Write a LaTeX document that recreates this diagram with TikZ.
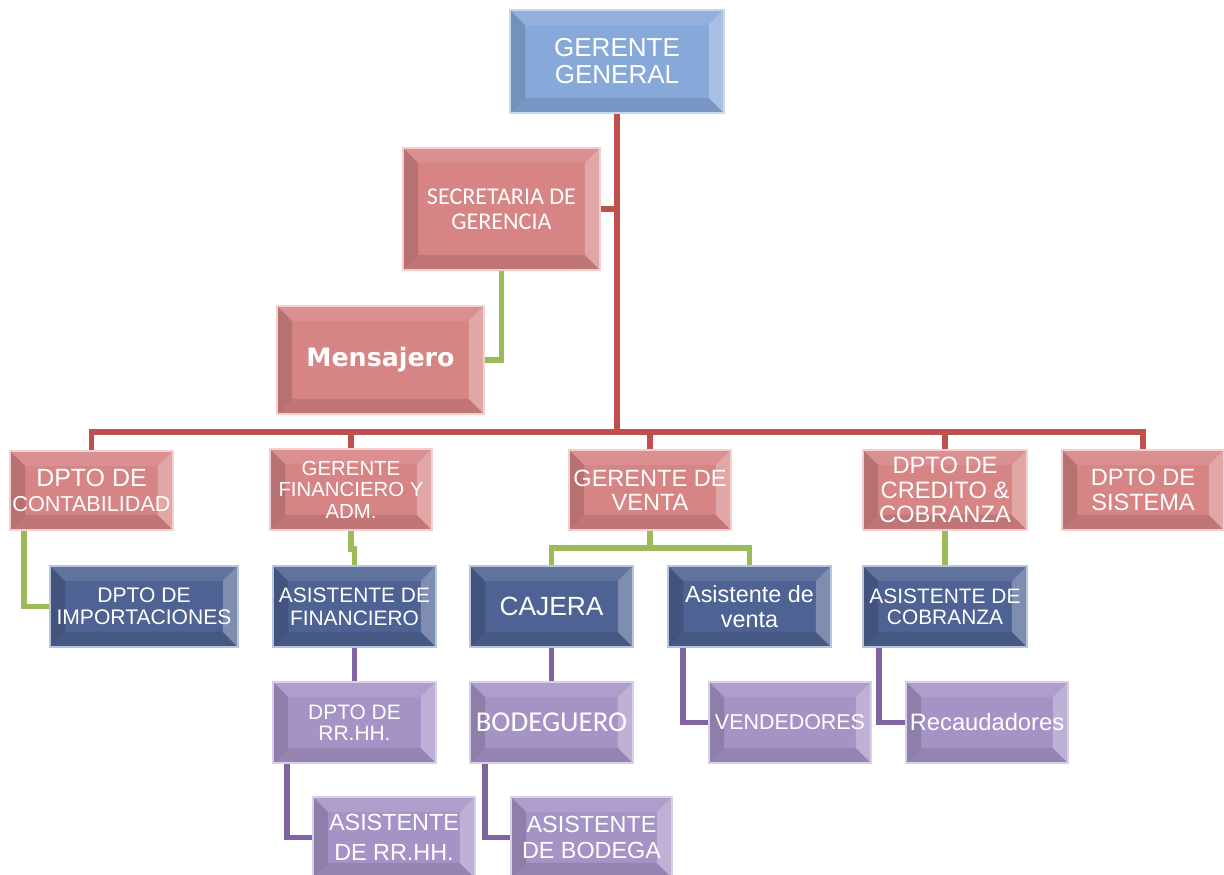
\documentclass[tikz,border=0pt]{standalone}
\usepackage{fontspec}
\setmainfont{Liberation Sans}
\newfontfamily\calib{Carlito}
\newfontfamily\heavy{DejaVu Sans}
\pgfdeclarelayer{bg}
\pgfsetlayers{bg,main}

\definecolor{cBlue}{HTML}{87A9D9}
\definecolor{cBlueEdge}{HTML}{C5D8F0}
\definecolor{cRed}{HTML}{D68484}
\definecolor{cRedEdge}{HTML}{F3CFCF}
\definecolor{cNavy}{HTML}{4E6293}
\definecolor{cNavyEdge}{HTML}{B7C5DE}
\definecolor{cLilac}{HTML}{A693C6}
\definecolor{cLilacEdge}{HTML}{D9CFEA}
\definecolor{lnRed}{HTML}{C0504D}
\definecolor{lnGreen}{HTML}{9BBB59}
\definecolor{lnPurple}{HTML}{8064A2}

\newcommand\bevw{0.3cm}

\tikzset{
  bevel/.style={path picture={
    \fill[white,opacity=.10] (path picture bounding box.north west) -- (path picture bounding box.north east)
      -- ([shift={(-\bevw,-\bevw)}]path picture bounding box.north east) -- ([shift={(\bevw,-\bevw)}]path picture bounding box.north west) -- cycle;
    \fill[white,opacity=.28] (path picture bounding box.north east) -- (path picture bounding box.south east)
      -- ([shift={(-\bevw,\bevw)}]path picture bounding box.south east) -- ([shift={(-\bevw,-\bevw)}]path picture bounding box.north east) -- cycle;
    \fill[black,opacity=.10] (path picture bounding box.south east) -- (path picture bounding box.south west)
      -- ([shift={(\bevw,\bevw)}]path picture bounding box.south west) -- ([shift={(-\bevw,\bevw)}]path picture bounding box.south east) -- cycle;
    \fill[black,opacity=.14] (path picture bounding box.south west) -- (path picture bounding box.north west)
      -- ([shift={(\bevw,-\bevw)}]path picture bounding box.north west) -- ([shift={(\bevw,\bevw)}]path picture bounding box.south west) -- cycle;
  }},
  orgnode/.style={rectangle, inner sep=0pt, align=center, text=white, line width=1.1pt, bevel},
  bluebox/.style={orgnode, fill=cBlue, draw=cBlueEdge},
  redbox/.style={orgnode, fill=cRed, draw=cRedEdge},
  navybox/.style={orgnode, fill=cNavy, draw=cNavyEdge},
  lilacbox/.style={orgnode, fill=cLilac, draw=cLilacEdge},
  link/.style={line width=3pt},
  redlink/.style={link, draw=lnRed},
  greenlink/.style={link, draw=lnGreen},
  purplelink/.style={link, draw=lnPurple},
  fsz/.style 2 args={font=\fontsize{#1}{#2}\selectfont},
}

% \orgbox{name}{style}{x1}{y1}{x2}{y2}{text}
\newcommand\orgbox[7]{%
  \node[#2, minimum width={(#5-#3)*0.569pt}, minimum height={(#6-#4)*0.569pt}]
    (#1) at ({(#3+#5)/2},{(#4+#6)/2}) {#7};}

\begin{document}
\begin{tikzpicture}[x=0.02cm, y=-0.02cm]
\useasboundingbox (0,0) rectangle (1224,875);

% management
\orgbox{gg}{bluebox, fsz={14.8}{15.4}}{510}{10}{724}{113}{GERENTE\\GENERAL}
\orgbox{sec}{redbox, font=\calib\fontsize{13.7}{14.4}\selectfont}{403}{148}{600}{270}{SECRETARIA DE\\GERENCIA}
\orgbox{men}{redbox, font=\heavy\bfseries\fontsize{14.4}{16}\selectfont}{277}{306}{484}{414}{Mensajero}

% departments
\orgbox{cont}{redbox, fsz={12.3}{14.8}}{10}{451}{173}{530}{{\fontsize{14.2}{14.6}\selectfont DPTO DE}\\[-1pt]CONTABILIDAD}
\orgbox{fin}{redbox, fsz={11.6}{12.2}}{270}{449}{432}{530}{GERENTE\\FINANCIERO Y\\ADM.}
\orgbox{ven}{redbox, fsz={13.4}{13.8}}{569}{450}{731}{530}{GERENTE DE\\VENTA}
\orgbox{cred}{redbox, fsz={13.5}{13.8}}{863}{450}{1027}{530}{DPTO DE\\CREDITO \&\\COBRANZA}
\orgbox{sis}{redbox, fsz={13.4}{13.8}}{1062}{450}{1224}{530}{DPTO DE\\SISTEMA}

% assistants
\orgbox{imp}{navybox, fsz={12}{12.6}}{50}{566}{238}{647}{DPTO DE\\IMPORTACIONES}
\orgbox{asfin}{navybox, fsz={11.9}{13}}{273}{566}{436}{647}{ASISTENTE DE\\FINANCIERO}
\orgbox{caj}{navybox, fsz={15}{16}}{470}{566}{633}{647}{CAJERA}
\orgbox{asv}{navybox, fsz={13.3}{14.2}}{668}{566}{831}{647}{Asistente de\\venta}
\orgbox{ascob}{navybox, fsz={11.9}{12}}{863}{566}{1027}{647}{ASISTENTE DE\\COBRANZA}

% staff
\orgbox{rrhh}{lilacbox, fsz={11.9}{12}}{273}{682}{436}{763}{DPTO DE\\RR.HH.}
\orgbox{bod}{lilacbox, font=\calib\fontsize{16.4}{17}\selectfont}{470}{682}{633}{763}{BODEGUERO}
\orgbox{vend}{lilacbox, fsz={12.2}{13}}{709}{682}{871}{763}{VENDEDORES}
\orgbox{rec}{lilacbox, fsz={13.5}{14}}{906}{682}{1068}{763}{Recaudadores}
\orgbox{asrh}{lilacbox, fsz={13.3}{17}}{313}{797}{475}{878}{ASISTENTE\\DE RR.HH.}
\orgbox{asbod}{lilacbox, fsz={13.3}{15.3}}{511}{797}{672}{878}{ASISTENTE\\DE BODEGA}

\coordinate (bus) at (617,432);

\begin{pgfonlayer}{bg}
  \fill[white] (0,0) rectangle (1224,875);
  % red hierarchy
  \draw[redlink] (gg.south) -- (bus);
  \draw[redlink] (sec.east) -- (sec.east -| gg.south);
  \draw[redlink] (cont.north) |- (bus) -| (sis.north);
  \draw[redlink] (fin.north) -- (fin.north |- bus);
  \draw[redlink] (ven.north) -- (ven.north |- bus);
  \draw[redlink] (cred.north) -- (cred.north |- bus);
  % green links
  \draw[greenlink] (sec.south) |- (men.east);
  \draw[greenlink] ([shift={(15,0)}]cont.south west) |- (imp.west);
  \draw[greenlink] (fin.south) -- ++(0,18) -| (asfin.north);
  \draw[greenlink] (ven.south) -- ++(0,17) coordinate (vj);
  \draw[greenlink] (caj.north) |- (vj) -| (asv.north);
  \draw[greenlink] (cred.south) -- (ascob.north);
  % purple links
  \draw[purplelink] (asfin.south) -- (rrhh.north);
  \draw[purplelink] (caj.south) -- (bod.north);
  \draw[purplelink] ([shift={(16,0)}]asv.south west) |- (vend.west);
  \draw[purplelink] ([shift={(17,0)}]ascob.south west) |- (rec.west);
  \draw[purplelink] ([shift={(15,0)}]rrhh.south west) |- (asrh.west);
  \draw[purplelink] ([shift={(16,0)}]bod.south west) |- (asbod.west);
\end{pgfonlayer}
\end{tikzpicture}
\end{document}
